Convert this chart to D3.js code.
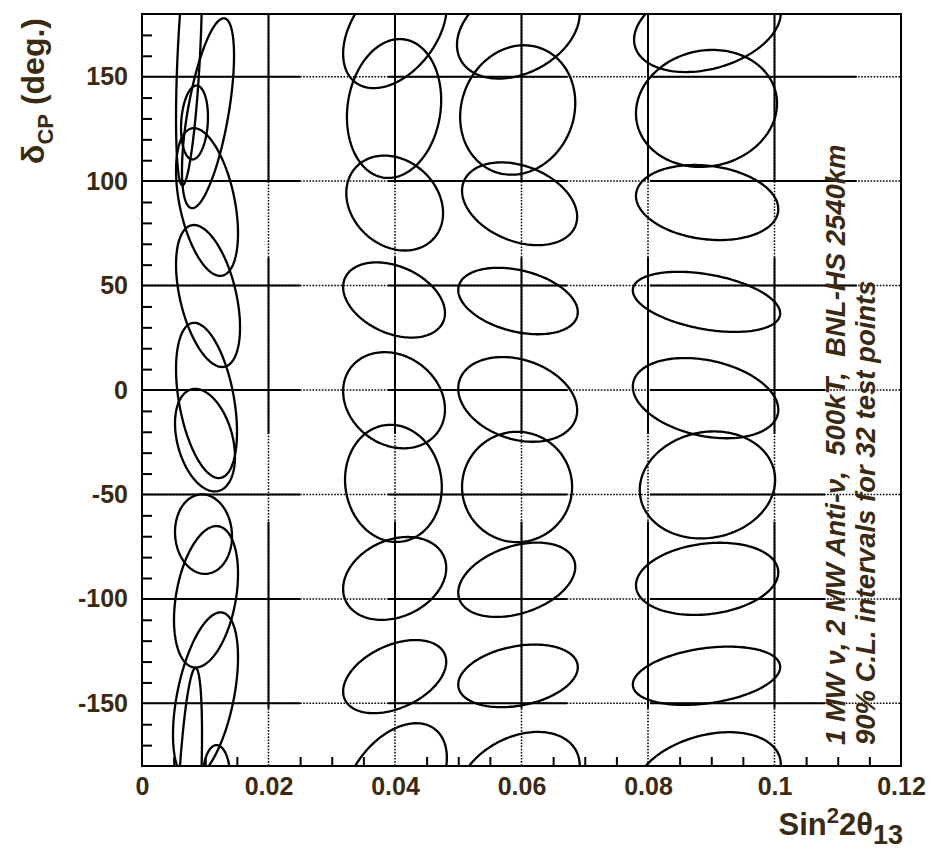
<!DOCTYPE html>
<html><head><meta charset="utf-8">
<script src="https://cdn.jsdelivr.net/npm/d3@7"></script>
<style>body{margin:0;background:#fff}svg{display:block}</style>
</head><body><svg id="c" width="932" height="849"></svg>
<script>
// ---------- data ----------
const xTicks = [0, 0.02, 0.04, 0.06, 0.08, 0.1, 0.12];
const xTickLabels = ["0", "0.02", "0.04", "0.06", "0.08", "0.1", "0.12"];
const yTicks = [-150, -100, -50, 0, 50, 100, 150];
const yTickLabels = ["-150", "-100", "-50", "0", "50", "100", "150"];
const xMinorTicks = [0.005,0.01,0.015,0.025,0.03,0.035,0.045,0.05,0.055,0.065,0.07,0.075,0.085,0.09,0.095,0.105,0.11,0.115];
const yMinorTicks = [-170,-160,-140,-130,-120,-110,-90,-80,-70,-60,-40,-30,-20,-10,10,20,30,40,60,70,80,90,110,120,130,140,160,170];

// 90% C.L. contours: [sin2 at leftmost pt, delta at leftmost pt, sin2 at rightmost pt, delta at rightmost pt, vertical half-width (deg), wraps in delta]
const col1Contours = [
  [0.00538, 130, 0.00949, 195, 55.7, 1],
  [0.00617, 125.4, 0.01043, 130.7, 17.5, 0],
  [0.00632, 105, 0.01455, 160, 36.2, 0],
  [0.00538, 105, 0.01518, 75, 32, 0],
  [0.00538, 60, 0.0155, 30, 30.5, 0],
  [0.00538, 10, 0.01502, -20, 34, 0],
  [0.00522, -16, 0.0147, -32, 23.2, 0],
  [0.00522, -68, 0.01423, -70, 19, 0],
  [0.00506, -110, 0.01518, -88, 32, 0],
  [0.0049, -165, 0.01518, -128, 35.5, 0],
  [0.00965, -185, 0.01392, -185, 15, 0]
];
const col2Contours = [
  [0.0318, 161, 0.0482, 184, 25.5, 1],
  [0.0324, 130.7, 0.0473, 138.8, 33, 0],
  [0.0323, 94.3, 0.0476, 84.7, 22.2, 0],
  [0.0318, 49.3, 0.0479, 36.9, 16.9, 0],
  [0.0318, -0.6, 0.0479, -9.2, 22.6, 0],
  [0.0321, -43, 0.0474, -46.4, 28, 0],
  [0.0318, -95.2, 0.0481, -85.2, 19.2, 0],
  [0.0318, -144.3, 0.0481, -130.1, 16, 0]
];
const col3Contours = [
  [0.0498, 165.2, 0.0692, 180.2, 22.4, 1],
  [0.0503, 130.7, 0.0685, 137.4, 30.8, 0],
  [0.0506, 95.4, 0.0688, 82.9, 18.8, 0],
  [0.05, 47.9, 0.0689, 37.3, 15, 0],
  [0.05, 0.7, 0.0688, -9.7, 19.6, 0],
  [0.0506, -46.4, 0.068, -46.4, 26.4, 0],
  [0.05, -97, 0.0685, -84.7, 16.7, 0],
  [0.05, -141, 0.0689, -132.7, 14.4, 0]
];
const col4Contours = [
  [0.0778, 167.7, 0.101, 180.7, 21, 1],
  [0.0781, 132.4, 0.1004, 137.2, 27.9, 0],
  [0.0781, 92.9, 0.1006, 86.6, 17.7, 0],
  [0.0776, 47.7, 0.1009, 36.7, 13.3, 0],
  [0.0776, 1.6, 0.1006, -9.4, 18.4, 0],
  [0.0787, -47.9, 0.1001, -43, 25.5, 0],
  [0.0781, -93.5, 0.1006, -87.3, 17, 0],
  [0.0776, -141, 0.1009, -132.6, 13.3, 0]
];

// solid parts of the grid: horizontal [delta, sin2 from, sin2 to]; vertical [delta from, delta to] on every major x
const hSolid = [
  [150, 0, 0.025], [150, 0.0389, 0.0672], [150, 0.0803, 0.113],
  [100, 0, 0.025], [100, 0.0389, 0.0672], [100, 0.0803, 0.113],
  [50, 0, 0.025], [50, 0.0389, 0.0672], [50, 0.0803, 0.113],
  [0, 0, 0.025], [0, 0.0389, 0.0672], [0, 0.0803, 0.108],
  [-50, 0, 0.025], [-50, 0.0389, 0.0672], [-50, 0.0803, 0.108],
  [-100, 0, 0.025], [-100, 0.0389, 0.0672], [-100, 0.0803, 0.108],
  [-150, 0, 0.025], [-150, 0.0389, 0.0672], [-150, 0.0803, 0.108]
];
const vSolid = [[100.5, 180], [-21, 63.5], [-152.5, -63]];
const vGridX = [0.02, 0.04, 0.06, 0.08, 0.1];

const annot1 = "1 MW \u03bd, 2 MW Anti-\u03bd,  500kT,  BNL-HS 2540km";
const annot2 = "90% C.L. intervals for 32 test points";

// ---------- drawing ----------
const W = 932, H = 849;
const M = {l: 142, r: 901, t: 14, b: 766};
const x = d3.scaleLinear().domain([0, 0.12]).range([M.l, M.r]);
const y = d3.scaleLinear().domain([-180, 180]).range([M.b, M.t]);
const txtCol = "#3a2a12";
const font = "'Liberation Sans', Arial, Helvetica, sans-serif";

const svg = d3.select("#c");
svg.append("rect").attr("width", W).attr("height", H).attr("fill", "#fff");
svg.append("defs").append("clipPath").attr("id", "pc")
  .append("rect").attr("x", M.l).attr("y", M.t).attr("width", M.r - M.l).attr("height", M.b - M.t);

const plot = svg.append("g").attr("clip-path", "url(#pc)");

// dotted grid
plot.selectAll("line.gy").data(yTicks).join("line")
  .attr("x1", M.l).attr("x2", M.r).attr("y1", d => y(d)).attr("y2", d => y(d))
  .attr("stroke", "#000").attr("stroke-width", 1.5).attr("stroke-dasharray", "1.6 1.5");
plot.selectAll("line.gx").data(vGridX).join("line")
  .attr("y1", M.t).attr("y2", M.b).attr("x1", d => x(d)).attr("x2", d => x(d))
  .attr("stroke", "#000").attr("stroke-width", 1.5).attr("stroke-dasharray", "1.6 1.5");

// solid grid segments
plot.selectAll("line.hs").data(hSolid).join("line")
  .attr("x1", d => x(d[1])).attr("x2", d => x(d[2])).attr("y1", d => y(d[0])).attr("y2", d => y(d[0]))
  .attr("stroke", "#000").attr("stroke-width", 2);
const vs = [];
vGridX.forEach(gx => vSolid.forEach(s => vs.push([gx, s[0], s[1]])));
plot.selectAll("line.vs").data(vs).join("line")
  .attr("x1", d => x(d[0])).attr("x2", d => x(d[0])).attr("y1", d => y(d[1])).attr("y2", d => y(d[2]))
  .attr("stroke", "#000").attr("stroke-width", 2);

// contours
function ellipsePts(c, shift) {
  const [xl, yl, xr, yr, h] = c;
  const cx = (xl + xr) / 2, rx = (xr - xl) / 2, cy = (yl + yr) / 2 + shift, k = (yr - yl) / 2;
  const pts = [];
  for (let i = 0; i < 160; i++) {
    const t = i / 160 * 2 * Math.PI;
    pts.push([cx + rx * Math.cos(t), cy + k * Math.cos(t) + h * Math.sin(t)]);
  }
  return pts;
}
const line = d3.line().x(d => x(d[0])).y(d => y(d[1])).curve(d3.curveLinearClosed);
const shapes = [];
[col1Contours, col2Contours, col3Contours, col4Contours].forEach(col => col.forEach(c => {
  shapes.push(ellipsePts(c, 0));
  if (c[5]) { shapes.push(ellipsePts(c, -360)); shapes.push(ellipsePts(c, 360)); }
}));
plot.selectAll("path.ct").data(shapes).join("path")
  .attr("d", line).attr("fill", "none").attr("stroke", "#000").attr("stroke-width", 2.3)
  .attr("stroke-linejoin", "round");

// frame
svg.append("rect").attr("x", M.l).attr("y", M.t).attr("width", M.r - M.l).attr("height", M.b - M.t)
  .attr("fill", "none").attr("stroke", "#000").attr("stroke-width", 2);

// axes
const yMinor = svg.append("g").attr("transform", `translate(${M.l},0)`)
  .call(d3.axisLeft(y).tickValues(yMinorTicks).tickSize(-10).tickFormat(""));
const xMinor = svg.append("g").attr("transform", `translate(0,${M.b})`)
  .call(d3.axisBottom(x).tickValues(xMinorTicks).tickSize(-9).tickFormat(""));
[yMinor, xMinor].forEach(g => { g.select(".domain").remove(); g.selectAll("line").attr("stroke", "#000").attr("stroke-width", 2); });

const yAx = svg.append("g").attr("transform", `translate(${M.l},0)`)
  .call(d3.axisLeft(y).tickValues(yTicks).tickSize(0).tickPadding(14).tickFormat((d, i) => yTickLabels[i]));
const xAx = svg.append("g").attr("transform", `translate(0,${M.b})`)
  .call(d3.axisBottom(x).tickValues(xTicks).tickSize(0).tickPadding(11).tickFormat((d, i) => xTickLabels[i]));
[yAx, xAx].forEach(g => {
  g.select(".domain").remove();
  g.selectAll("text").attr("font-family", font).attr("font-weight", "bold").attr("font-size", 25).attr("fill", txtCol);
});

// x title
const xt = svg.append("text").attr("x", 903).attr("y", 835).attr("text-anchor", "end")
  .attr("font-family", font).attr("font-weight", "bold").attr("font-size", 31).attr("fill", txtCol);
xt.append("tspan").text("Sin");
xt.append("tspan").attr("dy", -12).attr("font-size", 22).text("2");
xt.append("tspan").attr("dy", 12).text("2\u03b8");
xt.append("tspan").attr("dy", 9).attr("font-size", 27).text("13");

// y title
const yt = svg.append("text").attr("transform", "translate(44,18) rotate(-90)").attr("text-anchor", "end")
  .attr("font-family", font).attr("font-weight", "bold").attr("font-size", 32).attr("fill", txtCol);
yt.append("tspan").text("\u03b4");
yt.append("tspan").attr("dy", 9).attr("font-size", 22).text("CP");
yt.append("tspan").attr("dy", -9).text(" (deg.)");

// annotations
[[annot1, 845], [annot2, 875]].forEach(([s, bx]) => {
  svg.append("text").attr("transform", `translate(${bx},745) rotate(-90)`)
    .attr("font-family", font).attr("font-weight", "bold").attr("font-style", "italic")
    .attr("font-size", 27.5).attr("fill", txtCol).style("white-space", "pre").text(s);
});
</script></body></html>
